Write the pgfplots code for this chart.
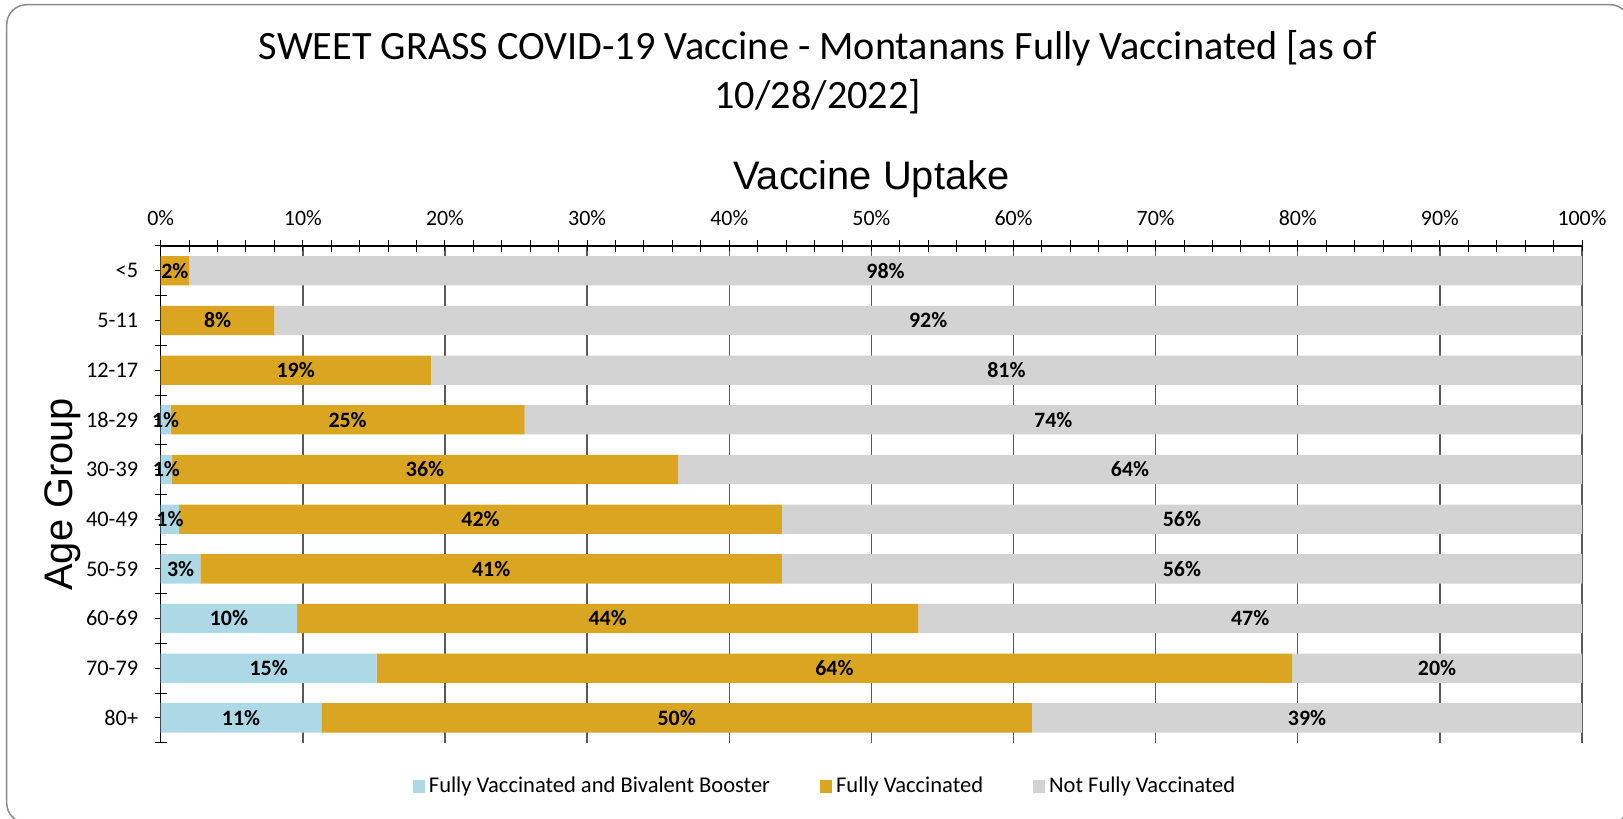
\documentclass[border=0pt]{standalone}
\usepackage{pgfplots}
\usepackage{pgfplotstable}
\pgfplotsset{compat=1.18}
\usepackage{fontspec}
\setmainfont{Carlito}
\newfontfamily\arialfont{Liberation Sans}
\definecolor{boost}{HTML}{ADD8E6}
\definecolor{full}{HTML}{DAA520}
\definecolor{notfull}{HTML}{D3D3D3}
\definecolor{gridc}{HTML}{595959}
\definecolor{framec}{HTML}{8C8C8C}

% pos: 9 = <5 (top) ... 0 = 80+ (bottom); b = booster, f = fully, n = not fully
\pgfplotstableread{
pos b    f    n
9   0    2    98
8   0    8    92
7   0    19   81
6   0.7  24.9 74.4
5   0.8  35.6 63.6
4   1.3  42.4 56.3
3   2.8  40.9 56.3
2   9.6  43.7 46.7
1   15.2 64.4 20.4
0   11.3 50.0 38.7
}\vaxdata

\begin{document}
\begin{tikzpicture}
\useasboundingbox (0,0) rectangle (811.5bp,409.5bp);
\draw[framec, line width=0.75bp, rounded corners=10bp] (3.35bp,-2bp) rectangle (815bp,407.15bp);
\node[font=\fontsize{20.2}{24.8}\selectfont, align=center] at (408.9bp,373.3bp)
  {SWEET GRASS COVID-19 Vaccine - Montanans Fully Vaccinated [as of\\10/28/2022]};
\begin{axis}[
    at={(80.35bp,38.15bp)}, anchor=south west,
    scale only axis, width=710.65bp, height=248.35bp,
    xbar stacked, bar width=0.59,
    xmin=0, xmax=100, ymin=-0.5, ymax=9.5,
    axis x line*=top, axis y line*=left,
    xtick={0,10,...,100},
    xticklabels={0\%,10\%,20\%,30\%,40\%,50\%,60\%,70\%,80\%,90\%,100\%},
    minor x tick num=4,
    xticklabel style={font=\fontsize{11}{13}\selectfont, anchor=center, yshift=11.15bp},
    ytick={0,1,2,3,4,5,6,7,8,9},
    yticklabels={80+,70-79,60-69,50-59,40-49,30-39,18-29,12-17,5-11,<5},
    minor ytick={-0.5,0.5,...,9.5},
    yticklabel style={font=\fontsize{11.2}{13}\selectfont, anchor=east, xshift=-5bp},
    tick align=center, major tick length=5.5bp, minor tick length=6bp,
    tick style={black, line width=0.5bp},
    axis line style={black, line width=0.6bp},
    xmajorgrids, major grid style={gridc, line width=0.7bp},
    title={\arialfont Vaccine Uptake},
    title style={font=\fontsize{20}{24}\selectfont, at={(axis description cs:0.5,1.11)}, anchor=center},
    ylabel={\arialfont Age Group},
    ylabel style={font=\fontsize{20}{24}\selectfont, at={(axis description cs:-0.0691,0.5)}, anchor=center},
    point meta=explicit,
    nodes near coords={\pgfmathfloatifflags{\pgfplotspointmeta}{0}{}{\pgfmathprintnumber[fixed,precision=0,assume math mode=true]{\pgfplotspointmeta}\%}},
    every node near coord/.append style={font=\fontsize{11}{13}\selectfont\bfseries, text=black, anchor=center},
    legend style={at={(0.468,-0.0884)}, anchor=center, draw=none, fill=none, legend columns=-1,
        font=\fontsize{11.3}{13}\selectfont,
        /tikz/every even column/.append style={column sep=22.8bp}},
    legend image code/.code={\fill[#1] (0bp,-3.1bp) rectangle (6.2bp,3.1bp);},
]
\addplot[fill=boost, draw=none] table[x=b, y=pos, meta=b] {\vaxdata};
\addplot[fill=full, draw=none] table[x=f, y=pos, meta=f] {\vaxdata};
\addplot[fill=notfull, draw=none] table[x=n, y=pos, meta=n] {\vaxdata};
\legend{Fully Vaccinated and Bivalent Booster, Fully Vaccinated, Not Fully Vaccinated}
\end{axis}
\end{tikzpicture}
\end{document}
